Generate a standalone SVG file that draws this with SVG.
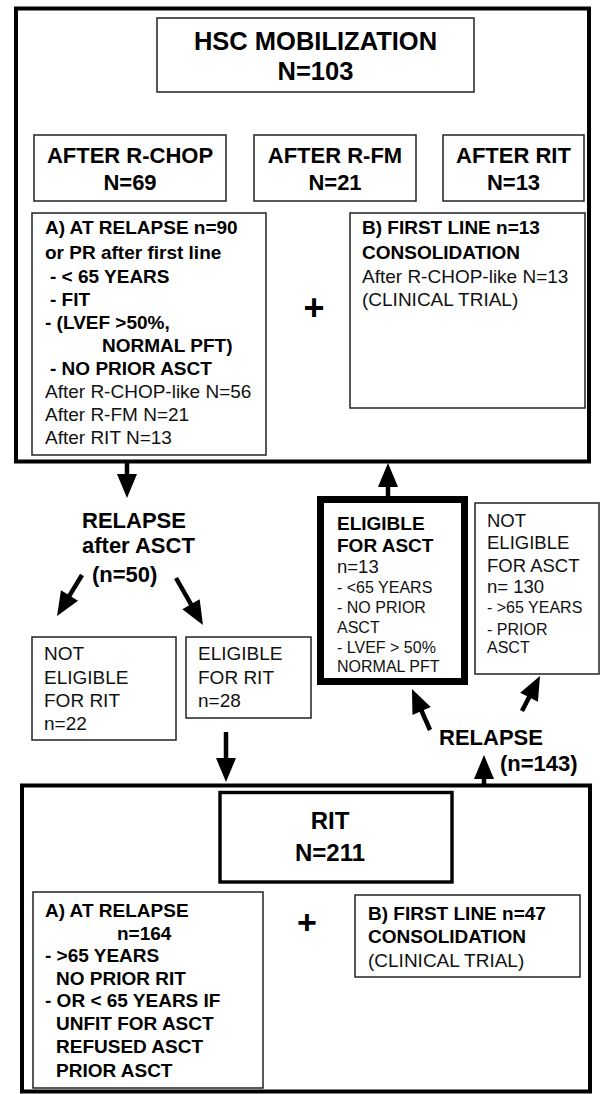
<svg xmlns="http://www.w3.org/2000/svg" width="602" height="1094" viewBox="0 0 602 1094">
  <defs>
    <style>
      .box { fill: #fff; stroke: #222; stroke-width: 1.5; }
      .frame { fill: none; stroke: #000; stroke-width: 4; }
      .heavy { fill: #fff; stroke: #000; stroke-width: 7; }
      .mid { fill: #fff; stroke: #000; stroke-width: 3.4; }
      .b { font-family: "Liberation Sans", Arial, sans-serif; font-weight: bold; fill: #000; }
      .r { font-family: "Liberation Sans", Arial, sans-serif; fill: #111; }
      .f19 { font-size: 19px; }
      .f16 { font-size: 16px; }
      .f185 { font-size: 18.5px; }
      .f22 { font-size: 22px; }
      .f25 { font-size: 25.5px; }
      .c { text-anchor: middle; }
      .shaft { stroke: #000; stroke-width: 4.5; fill: none; marker-end: url(#head); }
    </style>
    <marker id="head" markerUnits="userSpaceOnUse" markerWidth="24" markerHeight="20" refX="1" refY="10" orient="auto" overflow="visible">
      <path d="M0,0 L24,10 L0,20 z" fill="#000"/>
    </marker>
  </defs>

  <rect width="602" height="1094" fill="#fff"/>

  <!-- upper stage: stem-cell mobilization -->
  <g id="mobilization-frame">
    <rect class="frame" x="16" y="8.5" width="573" height="453"/>
  </g>
  <g id="hsc-mobilization">
    <rect class="box" x="157" y="18" width="317" height="74"/>
    <text class="b f25 c" x="315.5" y="50">HSC MOBILIZATION</text>
    <text class="b f25 c" x="315.5" y="80">N=103</text>
  </g>
  <g id="after-rchop">
    <rect class="box" x="34" y="135" width="192" height="66"/>
    <text class="b f22 c" x="130" y="163">AFTER R-CHOP</text>
    <text class="b f22 c" x="130" y="190">N=69</text>
  </g>
  <g id="after-rfm">
    <rect class="box" x="254" y="135" width="162" height="66"/>
    <text class="b f22 c" x="335" y="163">AFTER R-FM</text>
    <text class="b f22 c" x="335" y="190">N=21</text>
  </g>
  <g id="after-rit">
    <rect class="box" x="443" y="135" width="141" height="66"/>
    <text class="b f22 c" x="513.5" y="163">AFTER RIT</text>
    <text class="b f22 c" x="513.5" y="190">N=13</text>
  </g>
  <g id="mobilization-relapse">
    <rect class="box" x="32" y="213" width="234" height="242"/>
    <text class="b f19" x="45" y="234">A) AT RELAPSE n=90</text>
    <text class="b f19" x="45" y="259">or PR after first line</text>
    <text class="b f19" x="50" y="283">- &lt; 65 YEARS</text>
    <text class="b f19" x="50" y="306">- FIT</text>
    <text class="b f19" x="45" y="329">- (LVEF &gt;50%,</text>
    <text class="b f19" x="102" y="352">NORMAL PFT)</text>
    <text class="b f19" x="50" y="375">- NO PRIOR ASCT</text>
    <text class="r f19" x="45" y="398">After R-CHOP-like N=56</text>
    <text class="r f19" x="45" y="421">After R-FM N=21</text>
    <text class="r f19" x="45" y="444">After RIT N=13</text>
  </g>
  <g id="mobilization-plus">
    <text class="b c" x="314" y="320" font-size="36">+</text>
  </g>
  <g id="mobilization-first-line">
    <rect class="box" x="350" y="213" width="235" height="195"/>
    <text class="b f19" x="362" y="234">B) FIRST LINE n=13</text>
    <text class="b f19" x="362" y="259">CONSOLIDATION</text>
    <text class="r f19" x="362" y="283">After R-CHOP-like N=13</text>
    <text class="r f19" x="362" y="306">(CLINICAL TRIAL)</text>
  </g>

  <!-- middle: relapse branches -->
  <g id="relapse-after-asct">
    <text class="b f22" x="82" y="528">RELAPSE</text>
    <text class="b f22" x="82" y="553">after ASCT</text>
    <text class="b f22" x="92" y="582">(n=50)</text>
  </g>
  <g id="not-eligible-rit">
    <rect class="box" x="32" y="637" width="144" height="103"/>
    <text class="r f19" x="44" y="660">NOT</text>
    <text class="r f19" x="44" y="684">ELIGIBLE</text>
    <text class="r f19" x="44" y="707">FOR RIT</text>
    <text class="r f19" x="44" y="730">n=22</text>
  </g>
  <g id="eligible-rit">
    <rect class="box" x="186" y="637" width="125" height="81"/>
    <text class="r f19" x="198" y="660">ELIGIBLE</text>
    <text class="r f19" x="198" y="684">FOR RIT</text>
    <text class="r f19" x="198" y="707">n=28</text>
  </g>
  <g id="eligible-asct">
    <rect class="heavy" x="320.5" y="499.5" width="144" height="182"/>
    <text class="b f19" x="337" y="530">ELIGIBLE</text>
    <text class="b f19" x="337" y="552">FOR ASCT</text>
    <text class="r f185" x="337" y="573">n=13</text>
    <text class="r f16" x="337" y="593">- &lt;65 YEARS</text>
    <text class="r f16" x="337" y="613">- NO PRIOR</text>
    <text class="r f16" x="337" y="633">ASCT</text>
    <text class="r f16" x="337" y="653">- LVEF &gt; 50%</text>
    <text class="r f16" x="337" y="672">NORMAL PFT</text>
  </g>
  <g id="not-eligible-asct">
    <rect class="box" x="475" y="503" width="124" height="171"/>
    <text class="r f185" x="487" y="527">NOT</text>
    <text class="r f185" x="487" y="549">ELIGIBLE</text>
    <text class="r f185" x="487" y="572">FOR ASCT</text>
    <text class="r f185" x="487" y="593">n= 130</text>
    <text class="r f16" x="487" y="613">- &gt;65 YEARS</text>
    <text class="r f16" x="487" y="635">- PRIOR</text>
    <text class="r f16" x="487" y="653">ASCT</text>
  </g>
  <g id="relapse-after-rit">
    <text class="b f22" x="439" y="745">RELAPSE</text>
    <text class="b f22" x="500" y="771">(n=143)</text>
  </g>

  <!-- lower stage: radioimmunotherapy -->
  <g id="rit-frame">
    <rect class="frame" x="22" y="785.5" width="568" height="306"/>
  </g>
  <g id="rit">
    <rect class="mid" x="220" y="792.5" width="232" height="89.5"/>
    <text class="b c" x="330" y="829" font-size="24px">RIT</text>
    <text class="b c" x="330" y="861" font-size="24px">N=211</text>
  </g>
  <g id="rit-relapse">
    <rect class="box" x="33" y="892" width="230" height="196"/>
    <text class="b f19" x="45" y="917">A) AT RELAPSE</text>
    <text class="b f19" x="117" y="940">n=164</text>
    <text class="b f19" x="45" y="962">- &gt;65 YEARS</text>
    <text class="b f19" x="56" y="985">NO PRIOR RIT</text>
    <text class="b f19" x="45" y="1007">- OR &lt; 65 YEARS IF</text>
    <text class="b f19" x="56" y="1030">UNFIT FOR ASCT</text>
    <text class="b f19" x="56" y="1053">REFUSED ASCT</text>
    <text class="b f19" x="56" y="1077">PRIOR ASCT</text>
  </g>
  <g id="rit-plus">
    <text class="b c" x="307" y="934" font-size="34">+</text>
  </g>
  <g id="rit-first-line">
    <rect class="box" x="355" y="895" width="225" height="82"/>
    <text class="b f19" x="368" y="920">B) FIRST LINE n=47</text>
    <text class="b f19" x="368" y="943">CONSOLIDATION</text>
    <text class="r f19" x="368" y="967">(CLINICAL TRIAL)</text>
  </g>

  <!-- connectors -->
  <g id="connectors">
    <line class="shaft" x1="127" y1="462" x2="127" y2="475"/>
    <line class="shaft" x1="388" y1="497" x2="388" y2="486"/>
    <line class="shaft" x1="82" y1="575" x2="69" y2="596.4"/>
    <line class="shaft" x1="176" y1="578" x2="191.5" y2="605.1"/>
    <line class="shaft" x1="226" y1="732" x2="226" y2="759"/>
    <line class="shaft" x1="484" y1="785" x2="484" y2="778"/>
    <line class="shaft" x1="430" y1="730" x2="421.2" y2="710"/>
    <line class="shaft" x1="522" y1="711" x2="529.5" y2="696.4"/>
  </g>
</svg>
